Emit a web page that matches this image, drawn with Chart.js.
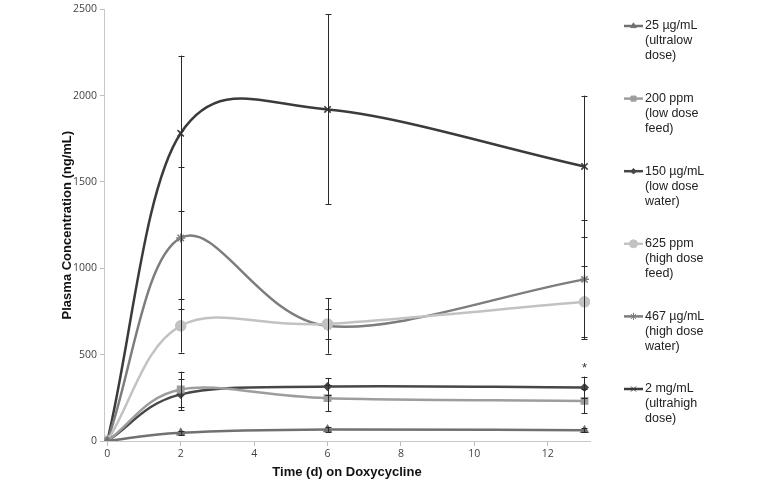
<!DOCTYPE html>
<html>
<head>
<meta charset="utf-8">
<script src="https://cdn.jsdelivr.net/npm/chart.js@4"></script>
<style>
  html, body { margin: 0; padding: 0; background: #fff; }
  #wrap { width: 763px; height: 480px; position: relative; }
</style>
</head>
<body>
<div id="wrap"><canvas id="grafico" width="763" height="480"></canvas></div>
<script>
// dias de amostragem
const dias = [0, 2, 6, 13];
const xTicks = [0, 2, 4, 6, 8, 10, 12];
const yTicks = [0, 500, 1000, 1500, 2000, 2500];

// nomes das doses (legenda em 3 linhas)
const nomes = [
    ['25 µg/mL', '(ultralow', 'dose)'],
    ['200 ppm', '(low dose', 'feed)'],
    ['150 µg/mL', '(low dose', 'water)'],
    ['625 ppm', '(high dose', 'feed)'],
    ['467 µg/mL', '(high dose', 'water)'],
    ['2 mg/mL', '(ultrahigh', 'dose)']
];

// médias (ng/mL)
const ultralow = [0, 48, 67, 62];
const lowFeed = [0, 298, 248, 232];
const lowWater = [0, 270, 315, 310];
const highFeed = [0, 667, 678, 806];
const highWater = [0, 1176, 666, 936];
const ultrahigh = [0, 1782, 1920, 1590];

// desvios (barras de erro)
const errUltralow = [0, 12, 15, 12];
const errLowFeed = [0, 103, 75, 72];
const errLowWater = [0, 90, 50, 63];
const errHighFeed = [0, 155, 85, 205];
const errHighWater = [0, 410, 160, 345];
const errUltrahigh = [0, 450, 550, 410];

// asterisco de significância
const marcas = [{ x: 13, y: 435, texto: '*' }];

const cores = ['#717171', '#9d9d9d', '#474747', '#c2c2c2', '#7d7d7d', '#3b3b3b'];
const estilos = ['triangle', 'rect', 'rectRot', 'circle', 'star', 'crossRot'];
const raios = [4, 4.5, 3.5, 5, 4.5, 4.5];
const series = [ultralow, lowFeed, lowWater, highFeed, highWater, ultrahigh];
const erros = [errUltralow, errLowFeed, errLowWater, errHighFeed, errHighWater, errUltrahigh];

// suavização no estilo do Excel (Catmull-Rom) sobre os pontos do Chart.js
const suavizar = {
    id: 'suavizar',
    beforeDatasetDraw(chart, args) {
        const meta = args.meta;
        meta.dataset.updateControlPoints(chart.chartArea, 'x');
        const pts = meta.data;
        const n = pts.length;
        for (let i = 0; i < n; i++) {
            const p = pts[i];
            const ant = pts[Math.max(i - 1, 0)];
            const prox = pts[Math.min(i + 1, n - 1)];
            let tx, ty;
            if (i === 0 || i === n - 1) {
                tx = prox.x - ant.x; ty = prox.y - ant.y;
            } else {
                tx = (prox.x - ant.x) / 2; ty = (prox.y - ant.y) / 2;
            }
            p.cp1x = p.x - tx / 3; p.cp1y = p.y - ty / 3;
            p.cp2x = p.x + tx / 3; p.cp2y = p.y + ty / 3;
        }
    }
};

const barrasErro = {
    id: 'barrasErro',
    afterDatasetsDraw(chart) {
        const ctx = chart.ctx;
        const sx = chart.scales.x, sy = chart.scales.y;
        ctx.save();
        ctx.strokeStyle = '#2a2a2a';
        ctx.lineWidth = 1;
        erros.forEach((err, i) => {
            err.forEach((e, j) => {
                if (!e) return;
                const px = Math.round(sx.getPixelForValue(dias[j])) + 0.5;
                const y1 = sy.getPixelForValue(series[i][j] + e);
                const y2 = sy.getPixelForValue(series[i][j] - e);
                ctx.beginPath();
                ctx.moveTo(px, y1); ctx.lineTo(px, y2);
                ctx.moveTo(px - 3, Math.round(y1) + 0.5); ctx.lineTo(px + 3, Math.round(y1) + 0.5);
                ctx.moveTo(px - 3, Math.round(y2) + 0.5); ctx.lineTo(px + 3, Math.round(y2) + 0.5);
                ctx.stroke();
            });
        });
        ctx.fillStyle = '#333';
        ctx.font = '13px "Liberation Sans", Arial, sans-serif';
        ctx.textAlign = 'center';
        ctx.textBaseline = 'middle';
        marcas.forEach(m => {
            ctx.fillText(m.texto, sx.getPixelForValue(m.x), sy.getPixelForValue(m.y) + 3);
        });
        ctx.restore();
    }
};

const legenda = {
    id: 'legendaMulti',
    afterDraw(chart) {
        const ctx = chart.ctx;
        ctx.save();
        ctx.font = '12.5px "Liberation Sans", Arial, sans-serif';
        ctx.textBaseline = 'middle';
        ctx.textAlign = 'left';
        nomes.forEach((linhas, i) => {
            const y0 = 26 + i * 72.6;
            ctx.strokeStyle = cores[i];
            ctx.lineWidth = 2.5;
            ctx.beginPath();
            ctx.moveTo(624, y0); ctx.lineTo(643, y0);
            ctx.stroke();
            ctx.fillStyle = cores[i];
            ctx.lineWidth = 1;
            Chart.helpers.drawPoint(ctx, { pointStyle: estilos[i], radius: raios[i] * 0.8, borderWidth: 1 }, 633.5, y0);
            ctx.fillStyle = '#222';
            linhas.forEach((t, k) => ctx.fillText(t, 645, y0 + k * 15));
        });
        ctx.restore();
    }
};

const grafico = document.getElementById('grafico').getContext('2d');

new Chart(grafico, {
    type: 'line',
    data: {
        datasets: series.map((s, i) => ({
            label: nomes[i].join(' '),
            data: s.map((v, j) => ({ x: dias[j], y: v })),
            borderColor: cores[i],
            backgroundColor: cores[i],
            pointStyle: estilos[i],
            pointRadius: raios[i],
            pointBorderWidth: 1.5,
            borderWidth: 2.5,
            tension: 0.33,
            fill: false
        }))
    },
    options: {
        responsive: false,
        animation: false,
        layout: { padding: { top: 5, right: 173, left: 60, bottom: 0 } },
        plugins: {
            legend: { display: false },
            tooltip: { enabled: false }
        },
        scales: {
            x: {
                type: 'linear',
                min: -0.09,
                max: 13.15,
                afterBuildTicks: s => { s.ticks = xTicks.map(v => ({ value: v })); },
                afterFit: s => { s.height = 39; },
                grid: { display: true, drawOnChartArea: false, tickLength: 5, color: '#bdbdbd' },
                border: { color: '#c8c8c8' },
                ticks: { color: '#444', font: { family: 'Open Sans', size: 10.5 }, padding: 2, maxRotation: 0, callback: v => String(v) },
                title: {
                    display: true,
                    text: 'Time (d) on Doxycycline',
                    color: '#111',
                    font: { family: 'Liberation Sans', size: 13, weight: 'bold' },
                    padding: { top: 2, bottom: 0 }
                }
            },
            y: {
                min: 0,
                max: 2500,
                afterBuildTicks: s => { s.ticks = yTicks.map(v => ({ value: v })); },
                afterFit: s => { s.width = 44; },
                grid: { display: true, drawOnChartArea: false, tickLength: 4, color: '#bdbdbd' },
                border: { color: '#c8c8c8' },
                ticks: { color: '#444', font: { family: 'Open Sans', size: 10.5 }, padding: 3, callback: v => String(v) },
                title: {
                    display: true,
                    text: 'Plasma Concentration (ng/mL)',
                    color: '#111',
                    font: { family: 'Liberation Sans', size: 13, weight: 'bold' },
                    padding: { top: 0, bottom: 2 }
                }
            }
        }
    },
    plugins: [suavizar, barrasErro, legenda]
});
</script>
</body>
</html>
